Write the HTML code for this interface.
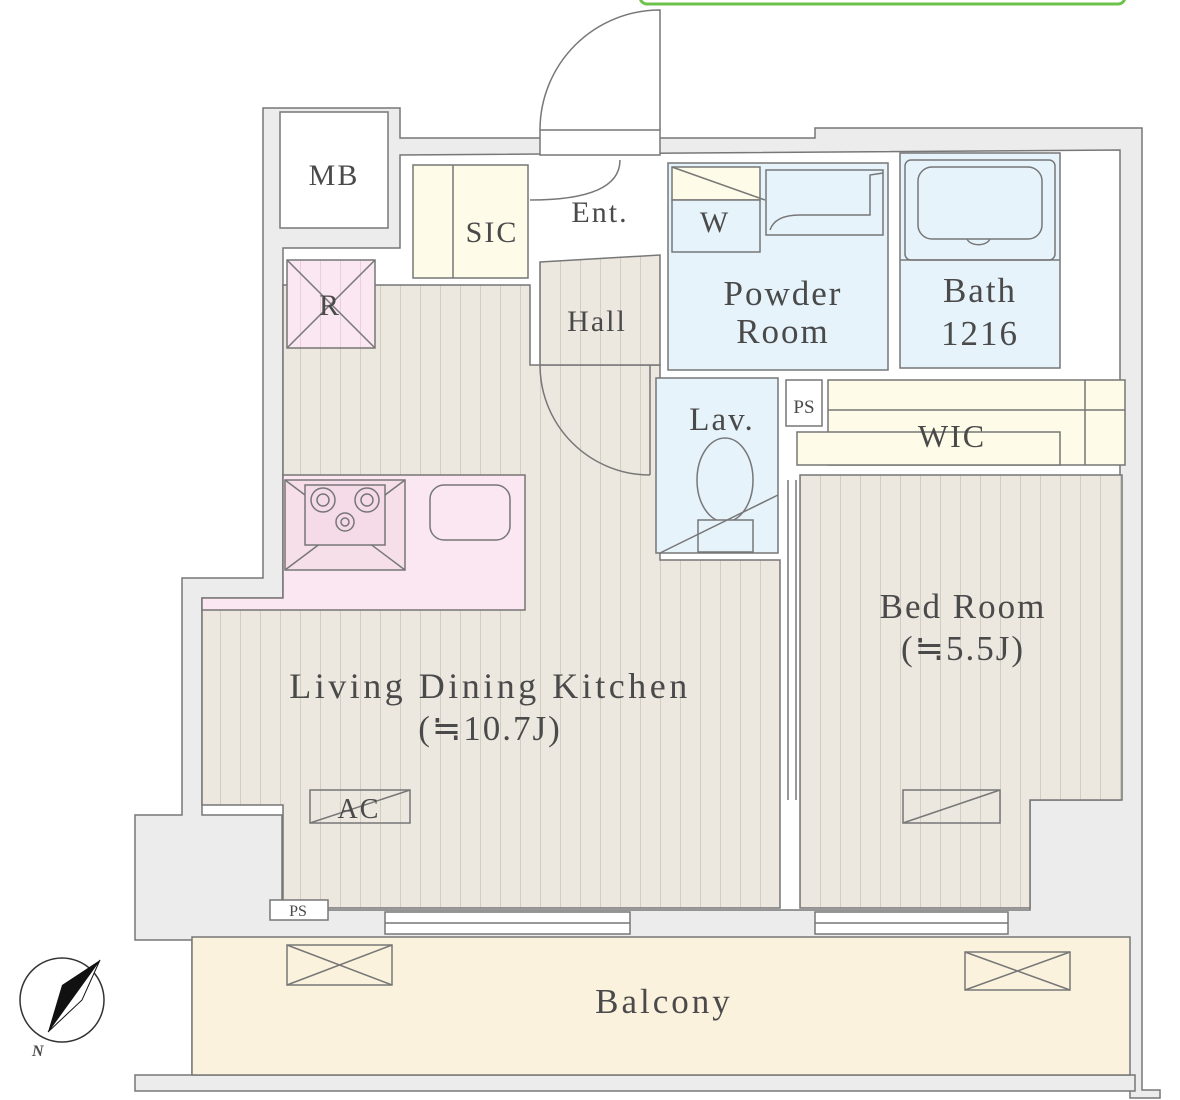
<!DOCTYPE html>
<html><head><meta charset="utf-8"><style>
html,body{margin:0;padding:0;background:#fff;}
svg{display:block}
text{font-family:"Liberation Serif",serif;fill:#4a4a4a;letter-spacing:2px;}
</style></head><body>
<svg width="1180" height="1100" viewBox="0 0 1180 1100" xmlns="http://www.w3.org/2000/svg">
<defs>
<pattern id="st" width="20" height="20" patternUnits="userSpaceOnUse">
<rect width="20" height="20" fill="#ece7df"/><line x1="0.5" y1="0" x2="0.5" y2="20" stroke="#d2ccc2" stroke-width="1"/>
</pattern>
<pattern id="stp" width="20" height="20" patternUnits="userSpaceOnUse">
<rect width="20" height="20" fill="#fbe7f1"/><line x1="0.5" y1="0" x2="0.5" y2="20" stroke="#e8cfdc" stroke-width="1"/>
</pattern>
</defs>
<g stroke="#777" stroke-width="1.5">
<rect x="640" y="-10" width="485" height="14" rx="7" fill="#fff" stroke="#6cc24a" stroke-width="3"/>
<polygon points="263,108 400,108 400,138 815,138 815,128 1142,128 1142,1090 1160,1090 1160,1098 1130,1098 1130,1075 192,1075 192,940 135,940 135,815 182,815 182,578 263,578" fill="#ececec"/>
<rect x="135" y="1075" width="1000" height="16" fill="#ececec"/>
<polygon points="283,248 400,248 400,155 1120,150 1120,800 1030,800 1030,910 282,910 282,815 202,815 202,598 283,598" fill="#fff"/>
<rect x="280" y="112" width="108" height="116" fill="#fff"/>
<rect x="192" y="937" width="938" height="138" fill="#fbf2de"/>
<polygon points="283,285 530,285 530,365 660,365 660,560 780,560 780,908 283,908 283,805 202,805 202,600 283,600" fill="url(#st)"/>
<polygon points="540,262 660,255 660,365 540,365" fill="url(#st)"/>
<rect x="413" y="165" width="115" height="113" fill="#fefbe8"/>
<line x1="453" y1="165" x2="453" y2="278"/>
<rect x="287" y="260" width="88" height="88" fill="url(#stp)"/>
<line x1="287" y1="260" x2="375" y2="348"/><line x1="375" y1="260" x2="287" y2="348"/>
<polygon points="283,475 525,475 525,610 202,610 202,598 283,598" fill="#fbe7f1"/>
<rect x="285" y="480" width="120" height="90" fill="#f7dfea"/>
<line x1="285" y1="480" x2="405" y2="570"/><line x1="405" y1="480" x2="285" y2="570"/>
<rect x="305" y="485" width="80" height="60" fill="#f5dbe7"/>
<circle cx="323" cy="500" r="12" fill="#f5dbe7"/><circle cx="323" cy="500" r="6" fill="none"/>
<circle cx="367" cy="500" r="12" fill="#f5dbe7"/><circle cx="367" cy="500" r="6" fill="none"/>
<circle cx="345" cy="522" r="9" fill="#f5dbe7"/><circle cx="345" cy="522" r="4" fill="none"/>
<rect x="430" y="485" width="80" height="55" rx="14" fill="#fbe7f1"/>
<rect x="668" y="163" width="220" height="207" fill="#e6f3fb"/>
<rect x="672" y="167" width="88" height="33" fill="#fefbe8"/>
<rect x="672" y="200" width="88" height="52" fill="#e6f3fb"/>
<line x1="672" y1="167" x2="765" y2="200"/>
<rect x="766" y="170" width="117" height="65" fill="#e6f3fb"/>
<path d="M770,230 Q775,215 800,215 L870,215 L870,175 L883,173" fill="none"/>
<rect x="900" y="153" width="160" height="215" fill="#e6f3fb"/>
<rect x="905" y="160" width="150" height="100" rx="6" fill="#e6f3fb"/>
<rect x="918" y="167" width="124" height="72" rx="14" fill="#e6f3fb"/>
<path d="M967,239 A12,8 0 0 0 990,239" fill="none"/>
<line x1="900" y1="260" x2="1060" y2="260"/>
<rect x="656" y="378" width="122" height="175" fill="#e6f3fb"/>
<ellipse cx="725" cy="480" rx="28" ry="42" fill="#e6f3fb"/>
<rect x="698" y="520" width="55" height="32" fill="#e6f3fb"/>
<line x1="660" y1="553" x2="778" y2="495"/>
<rect x="786" y="380" width="36" height="46" fill="#fff"/>
<rect x="828" y="380" width="297" height="85" fill="#fefbe8"/>
<line x1="828" y1="410" x2="1125" y2="410"/>
<line x1="1085" y1="380" x2="1085" y2="465"/>
<rect x="797" y="432" width="263" height="33" fill="#fefbe8"/>
<polygon points="800,475 1122,475 1122,800 1030,800 1030,908 800,908" fill="url(#st)"/>
<line x1="788" y1="480" x2="788" y2="800"/><line x1="796" y1="480" x2="796" y2="800"/>
<rect x="310" y="790" width="100" height="33" fill="url(#st)"/>
<line x1="310" y1="823" x2="410" y2="790"/>
<rect x="903" y="790" width="97" height="33" fill="url(#st)"/>
<line x1="903" y1="823" x2="1000" y2="790"/>
<rect x="270" y="900" width="58" height="20" fill="#fff"/>
<rect x="385" y="912" width="245" height="22" fill="#fff"/>
<line x1="385" y1="923" x2="630" y2="923"/>
<rect x="815" y="912" width="193" height="22" fill="#fff"/>
<line x1="815" y1="923" x2="1008" y2="923"/>
<rect x="287" y="945" width="105" height="40" fill="#fbf2de"/>
<line x1="287" y1="945" x2="392" y2="985"/><line x1="392" y1="945" x2="287" y2="985"/>
<rect x="965" y="952" width="105" height="38" fill="#fbf2de"/>
<line x1="965" y1="952" x2="1070" y2="990"/><line x1="1070" y1="952" x2="965" y2="990"/>
<rect x="540" y="130" width="120" height="25" fill="#fff"/>
<path d="M540,130 A120,120 0 0 1 660,10 L660,130" fill="none"/>
<path d="M540,365 A110,110 0 0 0 650,475" fill="none"/>
<line x1="650" y1="365" x2="650" y2="475"/>
<path d="M530,200 Q620,200 620,160" fill="none"/>
</g>
<g text-anchor="middle">
<text x="334" y="185" font-size="30">MB</text>
<text x="492" y="242" font-size="30">SIC</text>
<text x="600" y="222" font-size="30">Ent.</text>
<text x="330" y="315" font-size="30">R</text>
<text x="597" y="331" font-size="30">Hall</text>
<text x="715" y="232" font-size="30">W</text>
<text x="783" y="305" font-size="35">Powder</text>
<text x="783" y="343" font-size="35">Room</text>
<text x="980" y="302" font-size="35">Bath</text>
<text x="980" y="345" font-size="35">1216</text>
<text x="722" y="430" font-size="33">Lav.</text>
<text x="804" y="413" font-size="19" style="letter-spacing:0">PS</text>
<text x="952" y="447" font-size="32">WIC</text>
<text x="963" y="618" font-size="35">Bed Room</text>
<text x="963" y="660" font-size="35">(≒5.5J)</text>
<text x="490" y="698" font-size="36" style="letter-spacing:3.5px">Living Dining Kitchen</text>
<text x="490" y="740" font-size="35">(≒10.7J)</text>
<text x="359" y="818" font-size="28">AC</text>
<text x="298" y="916" font-size="16" style="letter-spacing:0">PS</text>
<text x="664" y="1013" font-size="35" style="letter-spacing:3px">Balcony</text>
</g>
<g>
<circle cx="62" cy="1000" r="42" fill="#fff" stroke="#333" stroke-width="1.5"/>
<polygon points="100,960 48,1032 62,985" fill="#111"/>
<polygon points="100,960 48,1032 82,1000" fill="#fff" stroke="#111" stroke-width="1"/>
<text x="32" y="1056" font-size="16" font-family="Liberation Sans" font-style="italic" font-weight="bold" fill="#111" style="letter-spacing:0">N</text>
</g>
</svg>
</body></html>
